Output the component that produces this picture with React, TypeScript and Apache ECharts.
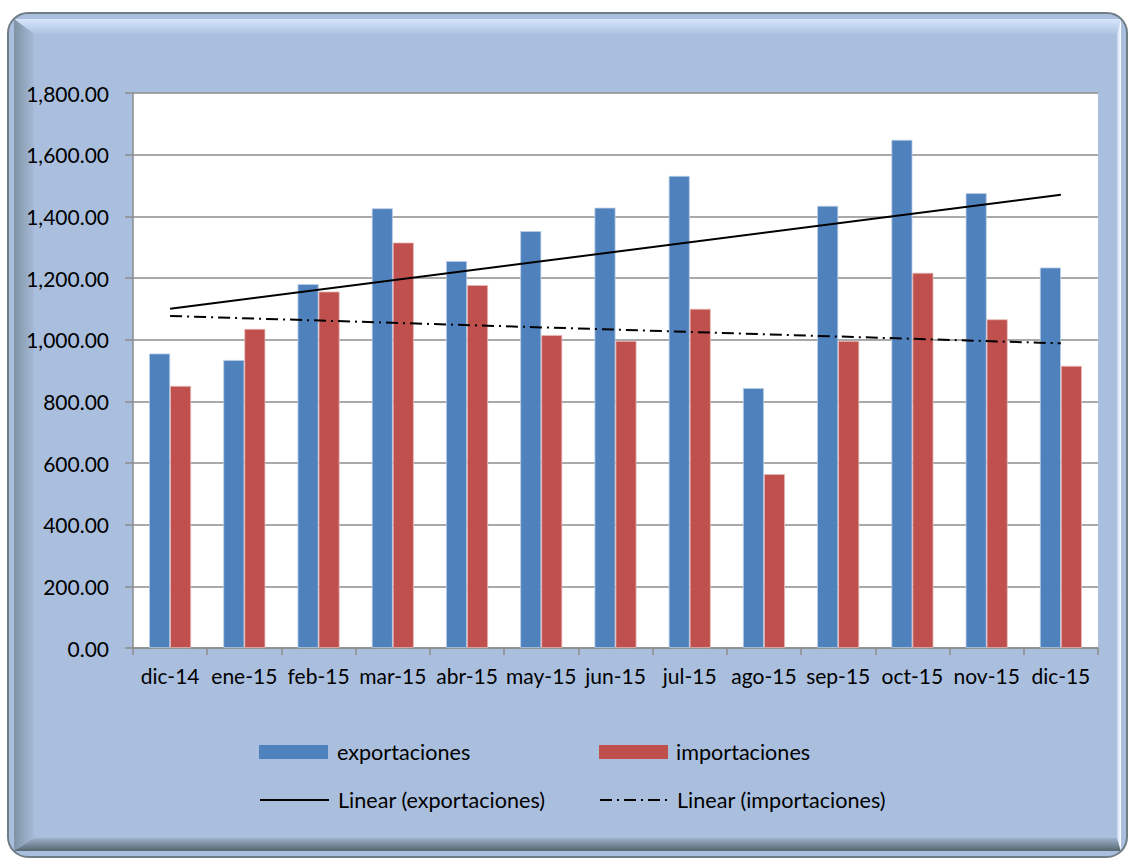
import React, { useEffect, useRef } from "react";
import * as echarts from "echarts";

const categories = ["dic-14", "ene-15", "feb-15", "mar-15", "abr-15", "may-15", "jun-15", "jul-15", "ago-15", "sep-15", "oct-15", "nov-15", "dic-15"];
const exportaciones = [955, 934, 1180, 1426, 1255, 1352, 1428, 1531, 843, 1434, 1648, 1475, 1234];
const importaciones = [850, 1035, 1156, 1315, 1177, 1015, 996, 1100, 564, 996, 1217, 1066, 915];
const trendExport = [1100, 1470];
const trendImport = [1077, 988];
const yTicks = { min: 0, max: 1800, interval: 200 };

const FONT = "Lato";

export default function App() {
  const ref = useRef<HTMLDivElement>(null);
  useEffect(() => {
    document.body.style.margin = "0";
    const chart = echarts.init(ref.current!, null, { renderer: "svg" });
    const first = categories[0];
    const last = categories[categories.length - 1];
    const axisGrey = "#8C8C8C";
    const lin = (x1: number, y1: number, x2: number, y2: number, c1: string, c2: string) => ({
      type: "linear", x: x1, y: y1, x2, y2,
      colorStops: [{ offset: 0, color: c1 }, { offset: 1, color: c2 }],
    });
    const L = 8, T = 13, R = 1127, B = 857;
    const iL = 34, iT = 34, iR = 1117, iB = 838;
    const c = 6;
    const legendText = { fontFamily: FONT, fontSize: 21.6, color: "#000" };
    const legendBase = { itemWidth: 69, itemHeight: 14, itemGap: 0, padding: 0 };
    chart.setOption({
      animation: false,
      graphic: [
        { type: "rect", z: -10, shape: { x: L, y: T, width: R - L, height: B - T, r: 20 }, style: { fill: "#AABFDE" } },
        { type: "polygon", z: -9, shape: { points: [[L + c, T + c], [R - c, T + c], [iR, iT], [iL, iT]] }, style: { fill: lin(0, 0, 0, 1, "#D6E6FB", "#AFC3E2") } },
        { type: "polygon", z: -9, shape: { points: [[L + c, T + c], [iL, iT], [iL, iB], [L + c, B - c]] }, style: { fill: lin(0, 0, 1, 0, "#7F93A4", "#A6BAD8") } },
        { type: "polygon", z: -9, shape: { points: [[L + c, B - c], [iL, iB], [iR, iB], [R - c, B - c]] }, style: { fill: lin(0, 0, 0, 1, "#9DB1CC", "#56666F") } },
        { type: "polygon", z: -9, shape: { points: [[R - c, T + c], [iR, iT], [iR, iB], [R - c, B - c]] }, style: { fill: lin(0, 0, 1, 0, "#C5D8F2", "#FFFFFF") } },
        { type: "rect", z: -8, shape: { x: L, y: T, width: R - L, height: B - T, r: 20 }, style: { fill: "none", stroke: "#6F7D86", lineWidth: 2 } },
      ],
      grid: { left: 133, right: 34, top: 93, bottom: 211, show: true, backgroundColor: "#FFFFFF", borderWidth: 0 },
      legend: [
        { ...legendBase, data: [{ name: "exportaciones", icon: "rect" }], left: 259, top: 741, itemStyle: { borderWidth: 0 }, textStyle: { ...legendText, padding: [0, 0, 0, 4] } },
        { ...legendBase, data: [{ name: "importaciones", icon: "rect" }], left: 599, top: 741, itemStyle: { borderWidth: 0 }, textStyle: { ...legendText, padding: [0, 0, 0, 3] } },
        { ...legendBase, data: ["Linear (exportaciones)"], left: 259, top: 789, itemStyle: { color: "rgba(0,0,0,0)", borderWidth: 0 }, textStyle: { ...legendText, padding: [0, 0, 0, 4] } },
        { ...legendBase, data: ["Linear (importaciones)"], left: 599, top: 789, itemStyle: { color: "rgba(0,0,0,0)", borderWidth: 0 }, textStyle: { ...legendText, padding: [0, 0, 0, 3] } },
      ],
      xAxis: {
        type: "category",
        data: categories,
        axisLine: { show: true, lineStyle: { color: axisGrey, width: 1.5 } },
        axisTick: { show: true, length: 7, lineStyle: { color: axisGrey, width: 1.5 } },
        axisLabel: { margin: 17, fontFamily: FONT, fontSize: 21, color: "#000", interval: 0 },
        splitLine: { show: false },
      },
      yAxis: {
        type: "value",
        min: yTicks.min,
        max: yTicks.max,
        interval: yTicks.interval,
        axisLine: { show: true, lineStyle: { color: axisGrey, width: 1.5 } },
        axisTick: { show: true, length: 8, lineStyle: { color: axisGrey, width: 1.5 } },
        axisLabel: {
          margin: 24, fontFamily: FONT, fontSize: 21, color: "#000",
          formatter: (v: number) => v.toLocaleString("en-US", { minimumFractionDigits: 2, maximumFractionDigits: 2 }),
        },
        splitLine: { show: true, lineStyle: { color: axisGrey, width: 1.5 } },
      },
      series: [
        { name: "exportaciones", type: "bar", data: exportaciones, barWidth: 21, barGap: "0%", itemStyle: { color: "#4F81BD", borderColor: "#B9CDE5", borderWidth: 0.8 }, z: 2 },
        { name: "importaciones", type: "bar", data: importaciones, barWidth: 21, barGap: "0%", itemStyle: { color: "#C0504D", borderColor: "#E6B9B8", borderWidth: 0.8 }, z: 2 },
        { name: "Linear (exportaciones)", type: "line", data: [[first, trendExport[0]], [last, trendExport[1]]], symbol: "none", lineStyle: { color: "#000", width: 2, type: "solid" }, itemStyle: { color: "#000" }, z: 5 },
        { name: "Linear (importaciones)", type: "line", data: [[first, trendImport[0]], [last, trendImport[1]]], symbol: "none", lineStyle: { color: "#000", width: 2, type: [12, 5, 2, 5] }, itemStyle: { color: "#000" }, z: 5 },
      ],
    });
    return () => chart.dispose();
  }, []);
  return <div ref={ref} style={{ width: 1132, height: 859 }} />;
}
